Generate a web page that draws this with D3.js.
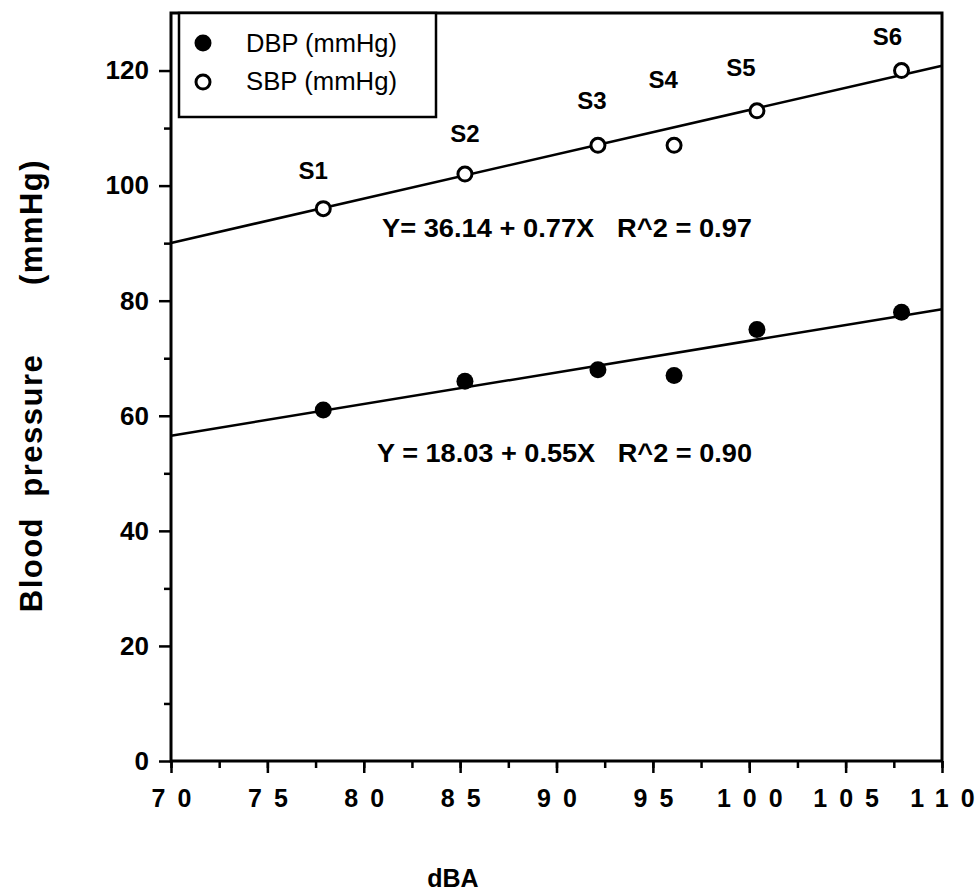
<!DOCTYPE html>
<html>
<head>
<meta charset="utf-8">
<script src="https://cdn.jsdelivr.net/npm/d3@7"></script>
<style>
	html, body { margin: 0; padding: 0; background: #fff; }
	svg { display: block; font-family: Arial, "Liberation Sans", Helvetica, sans-serif; }
</style>
</head>
<body>
<svg id="chart" width="976" height="892"></svg>
<script>
// data
let subjects = ['S1', 'S2', 'S3', 'S4', 'S5', 'S6'];
let dBA = [77.9, 85.25, 92.15, 96.1, 100.4, 107.9];
let sbp = [96, 102, 107, 107, 113, 120];
let dbp = [61, 66, 68, 67, 75, 78];

// regression lines: [intercept, slope, r2]
let sbpFit = [36.14, 0.77, 0.97];
let dbpFit = [18.03, 0.55, 0.90];

let xTicks = [70, 75, 80, 85, 90, 95, 100, 105, 110];
let yTicks = [0, 20, 40, 60, 80, 100, 120];

// label nudges for S1..S6 (px, relative to the SBP point)
let labelNudge = [[-10, -30], [0, -32], [-6, -36], [-11, -57], [-16, -35], [-14, -26]];

let plotL = 171, plotR = 942, plotT = 13, plotB = 761;
let color = '#000';

let svg = d3.select('#chart');
let g = svg.append('g');

let x = d3.scaleLinear().domain([70, 110]).range([plotL, plotR]);
let y = d3.scaleLinear().domain([0, 130]).range([plotB, plotT]);

// minor ticks
let xAxisMinor = d3.axisBottom(x).tickValues(d3.range(70, 110.1, 2.5))
	.tickSize(7).tickFormat('');
g.append('g').attr('transform', `translate(0,${plotB})`).call(xAxisMinor)
	.call(s => s.selectAll('.tick line').attr('stroke-width', 2.5))
	.call(s => s.select('.domain').remove());
let yAxisMinor = d3.axisLeft(y).tickValues(d3.range(10, 130, 20))
	.tickSize(7).tickFormat('');
g.append('g').attr('transform', `translate(${plotL},0)`).call(yAxisMinor)
	.call(s => s.selectAll('.tick line').attr('stroke-width', 2.5))
	.call(s => s.select('.domain').remove());

// major ticks + labels (x labels are spaced out digit by digit)
let digitGap = 12;
g.append('g').attr('transform', `translate(0,${plotB})`)
	.call(d3.axisBottom(x).tickValues(xTicks).tickSize(12).tickPadding(16).tickFormat(d3.format('d')))
	.call(s => s.select('.domain').remove())
	.call(s => s.selectAll('.tick line').attr('stroke-width', 2.5))
	.call(s => s.selectAll('.tick text')
		.attr('font-size', '25px').attr('font-weight', 'bold')
		.attr('font-family', 'Arial, "Liberation Sans", sans-serif')
		.attr('fill', color)
		.each(function(d){
			let t = d3.select(this);
			let chars = String(d).split('');
			t.text('');
			chars.forEach((c, i) => {
				t.append('tspan').attr('dx', i === 0 ? 0 : digitGap).text(c);
			});
		}));

g.append('g').attr('transform', `translate(${plotL},0)`)
	.call(d3.axisLeft(y).tickValues(yTicks).tickSize(12).tickPadding(10))
	.call(s => s.select('.domain').remove())
	.call(s => s.selectAll('.tick line').attr('stroke-width', 2.5))
	.call(s => s.selectAll('.tick text')
		.attr('font-size', '26px').attr('font-weight', 'bold')
		.attr('font-family', 'Arial, "Liberation Sans", sans-serif')
		.attr('fill', color));

// frame
g.append('rect')
	.attr('x', plotL).attr('y', plotT)
	.attr('width', plotR - plotL).attr('height', plotB - plotT)
	.attr('fill', 'none').attr('stroke', color).attr('stroke-width', 3);

// regression lines
let fitLine = (fit) => [[70, fit[0] + fit[1]*70], [110, fit[0] + fit[1]*110]];
let line = d3.line().x(d => x(d[0])).y(d => y(d[1]));
[sbpFit, dbpFit].forEach(fit => {
	g.append('path')
		.attr('d', line(fitLine(fit)))
		.attr('fill', 'none').attr('stroke', color).attr('stroke-width', 2.5);
});

// points
g.selectAll('.dbp').data(dBA).enter().append('circle')
	.attr('class', 'dbp')
	.attr('cx', d => x(d)).attr('cy', (d, i) => y(dbp[i]))
	.attr('r', 8.5).attr('fill', color);
g.selectAll('.sbp').data(dBA).enter().append('circle')
	.attr('class', 'sbp')
	.attr('cx', d => x(d)).attr('cy', (d, i) => y(sbp[i]))
	.attr('r', 7).attr('fill', '#fff').attr('stroke', color).attr('stroke-width', 3);

// subject labels
g.selectAll('.slab').data(subjects).enter().append('text')
	.attr('class', 'slab')
	.attr('x', (d, i) => x(dBA[i]) + labelNudge[i][0])
	.attr('y', (d, i) => y(sbp[i]) + labelNudge[i][1])
	.attr('text-anchor', 'middle')
	.attr('font-size', '24px').attr('font-weight', 'bold')
	.attr('fill', color)
	.text(d => d);

// equations
let eqText = (fit, sep) => 'Y' + sep + '= ' + fit[0].toFixed(2) + ' + ' + fit[1].toFixed(2) + 'X   R^2 = ' + fit[2].toFixed(2);
g.append('text')
	.attr('x', 382).attr('y', 237)
	.attr('xml:space', 'preserve')
	.attr('font-size', '26px').attr('font-weight', 'bold')
	.attr('textLength', 370).attr('lengthAdjust', 'spacingAndGlyphs')
	.attr('fill', color)
	.text(eqText(sbpFit, ''));
g.append('text')
	.attr('x', 377).attr('y', 462)
	.attr('xml:space', 'preserve')
	.attr('font-size', '26px').attr('font-weight', 'bold')
	.attr('textLength', 375).attr('lengthAdjust', 'spacingAndGlyphs')
	.attr('fill', color)
	.text(eqText(dbpFit, ' '));

// legend
let leg = g.append('g');
leg.append('rect')
	.attr('x', 179).attr('y', plotT)
	.attr('width', 257).attr('height', 104)
	.attr('fill', '#fff').attr('stroke', color).attr('stroke-width', 2.5);
leg.append('circle').attr('cx', 203).attr('cy', 43).attr('r', 8.5).attr('fill', color);
leg.append('circle').attr('cx', 203).attr('cy', 82).attr('r', 7)
	.attr('fill', '#fff').attr('stroke', color).attr('stroke-width', 3);
leg.append('text').attr('x', 246).attr('y', 52)
	.attr('font-size', '25px').attr('fill', color)
	.attr('textLength', 151).attr('lengthAdjust', 'spacingAndGlyphs')
	.text('DBP (mmHg)');
leg.append('text').attr('x', 246).attr('y', 90)
	.attr('font-size', '25px').attr('fill', color)
	.attr('textLength', 151).attr('lengthAdjust', 'spacingAndGlyphs')
	.text('SBP (mmHg)');

// axis titles
g.append('text')
	.attr('transform', 'translate(42,483) rotate(-90)')
	.attr('text-anchor', 'middle')
	.attr('font-size', '31px').attr('font-weight', 'bold')
	.attr('letter-spacing', '1.5px')
	.attr('xml:space', 'preserve')
	.attr('fill', color)
	.text('Blood  pressure');
g.append('text')
	.attr('transform', 'translate(42,222) rotate(-90)')
	.attr('text-anchor', 'middle')
	.attr('font-size', '31px').attr('font-weight', 'bold')
	.attr('letter-spacing', '1.5px')
	.attr('fill', color)
	.text('(mmHg)');
g.append('text')
	.attr('x', 453).attr('y', 887)
	.attr('text-anchor', 'middle')
	.attr('font-size', '25px').attr('font-weight', 'bold')
	.attr('fill', color)
	.text('dBA');
</script>
</body>
</html>
